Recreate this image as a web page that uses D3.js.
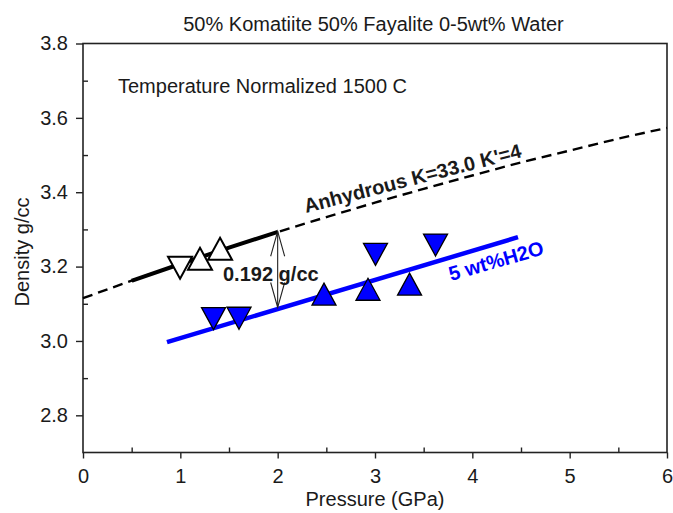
<!DOCTYPE html>
<html lang="en">
<head>
  <meta charset="utf-8" />
  <title>Komatiite Fayalite Density</title>
  <script src="https://cdn.jsdelivr.net/npm/d3@7"></script>
  <style>
    body { margin:0; background:#fff; font-family:"Liberation Sans", Arial, Helvetica, sans-serif; }
    svg text { fill:#1a1a1a; }
    .tick line { stroke:#222; stroke-width:1.4; }
    .tick text { font-size:20px; font-family:"Liberation Sans", Arial, sans-serif; fill:#1a1a1a; }
  </style>
</head>
<body>
<div id="chart"></div>
<script>
// --- data -----------------------------------------------------------------
const anhydP   = [0, 0.5, 1, 1.5, 2, 2.5, 3, 3.5, 4, 4.5, 5, 5.5, 6];
const anhydRho = [3.115, 3.162, 3.207, 3.251, 3.293, 3.333, 3.372, 3.409, 3.445, 3.480, 3.512, 3.544, 3.573];
const solidRange = [0.5, 2];            // solid part of the anhydrous curve

const wetLineP   = [0.863, 4.469];
const wetLineRho = [2.997, 3.279];

// anhydrous measurements: pressure, density, triangle direction
const dryP   = [0.997, 1.202, 1.408];
const dryRho = [3.197, 3.221, 3.248];
const dryDir = ["down", "up", "up"];

// 5 wt% water measurements
const wetP   = [1.341, 1.603, 2.476, 3.005, 2.928, 3.355, 3.622];
const wetRho = [3.060, 3.061, 3.126, 3.233, 3.139, 3.153, 3.258];
const wetDir = ["down", "down", "up", "down", "up", "up", "down"];

const arrowP = 2;
const arrowRho = [3.295, 3.090];

const xTicks = [0, 1, 2, 3, 4, 5, 6];
const xMinor = [0.5, 1.5, 2.5, 3.5, 4.5, 5.5];
const yTicks = [2.8, 3.0, 3.2, 3.4, 3.6, 3.8];
const yMinor = [2.9, 3.1, 3.3, 3.5, 3.7];

// --- layout ----------------------------------------------------------------
const W = 673, H = 513;
const L = 83, R = 667, T = 43.5, B = 452.5;

const svg = d3.select("#chart").append("svg")
  .attr("width", W).attr("height", H);

const x = d3.scaleLinear().domain([0, 6]).range([L, R]);
const y = d3.scaleLinear().domain([2.7, 3.8]).range([B, T]);

// axes
const yAx = svg.append("g").attr("transform", `translate(${L},0)`)
  .call(d3.axisLeft(y).tickValues(yTicks).tickSize(7).tickPadding(8).tickFormat(d3.format(".1f")));
const yAxMin = svg.append("g").attr("transform", `translate(${L},0)`)
  .call(d3.axisRight(y).tickValues(yMinor).tickSize(5).tickFormat(""));
const xAx = svg.append("g").attr("transform", `translate(0,${B})`)
  .call(d3.axisBottom(x).tickValues(xTicks).tickSize(6).tickPadding(10).tickFormat(d3.format("d")));
const xAxMin = svg.append("g").attr("transform", `translate(0,${B})`)
  .call(d3.axisTop(x).tickValues(xMinor).tickSize(5).tickFormat(""));
[yAx, yAxMin, xAx, xAxMin].forEach(g => g.select(".domain").remove());

svg.append("rect")
  .attr("x", L).attr("y", T).attr("width", R - L).attr("height", B - T)
  .attr("fill", "none").attr("stroke", "#222").attr("stroke-width", 1.6);

// titles
svg.append("text").attr("x", 373.5).attr("y", 31).attr("text-anchor", "middle")
  .attr("font-size", 20).text("50% Komatiite 50% Fayalite 0-5wt% Water");
svg.append("text").attr("x", 375).attr("y", 506).attr("text-anchor", "middle")
  .attr("font-size", 20).text("Pressure (GPa)");
svg.append("text").attr("transform", "translate(29,252) rotate(-90)").attr("text-anchor", "middle")
  .attr("font-size", 20).text("Density g/cc");
svg.append("text").attr("x", 118).attr("y", 93)
  .attr("font-size", 20).text("Temperature Normalized 1500 C");

// --- lines -----------------------------------------------------------------
const anhyd = anhydP.map((p, i) => ({p, r: anhydRho[i]}));
const line = d3.line().x(d => x(d.p)).y(d => y(d.r)).curve(d3.curveMonotoneX);

svg.append("path").datum(anhyd)
  .attr("d", line).attr("fill", "none")
  .attr("stroke", "#000").attr("stroke-width", 2.4).attr("stroke-dasharray", "10,6");
svg.append("path").datum(anhyd.filter(d => d.p >= solidRange[0] && d.p <= solidRange[1]))
  .attr("d", line).attr("fill", "none")
  .attr("stroke", "#000").attr("stroke-width", 4);

svg.append("path").datum(wetLineP.map((p, i) => ({p, r: wetLineRho[i]})))
  .attr("d", line).attr("fill", "none")
  .attr("stroke", "#0000ff").attr("stroke-width", 4.5);

// double arrow
const ax = x(arrowP), ay0 = y(arrowRho[0]), ay1 = y(arrowRho[1]);
const arr = svg.append("g").attr("stroke", "#222").attr("stroke-width", 1.1).attr("fill", "none");
arr.append("line").attr("x1", ax).attr("x2", ax).attr("y1", ay0).attr("y2", ay1);
arr.append("path").attr("d", `M${ax - 7},${ay0 + 25}L${ax},${ay0}L${ax + 7},${ay0 + 25}`);
arr.append("path").attr("d", `M${ax - 7},${ay1 - 25}L${ax},${ay1}L${ax + 7},${ay1 - 25}`);

// --- markers ---------------------------------------------------------------
function tri(dir) {
  const w = 12, h = 11;
  return dir === "up"
    ? `M0,${-h}L${w},${h}L${-w},${h}Z`
    : `M0,${h}L${w},${-h}L${-w},${-h}Z`;
}

svg.selectAll(".wet").data(wetP.map((p, i) => ({p, r: wetRho[i], d: wetDir[i]})))
  .join("path").attr("class", "wet")
  .attr("transform", d => `translate(${x(d.p)},${y(d.r)})`)
  .attr("d", d => tri(d.d))
  .attr("fill", "#0000ff").attr("stroke", "#000").attr("stroke-width", 1.3);

svg.selectAll(".dry").data(dryP.map((p, i) => ({p, r: dryRho[i], d: dryDir[i]})))
  .join("path").attr("class", "dry")
  .attr("transform", d => `translate(${x(d.p)},${y(d.r)})`)
  .attr("d", d => tri(d.d))
  .attr("fill", "#fff").attr("stroke", "#000").attr("stroke-width", 2);

// --- annotations -----------------------------------------------------------
svg.append("text").attr("x", 223).attr("y", 281)
  .attr("font-size", 20).attr("font-weight", "bold").text("0.192 g/cc");
svg.append("text").attr("transform", "translate(306,213) rotate(-14.5)")
  .attr("font-size", 20).attr("font-weight", "bold").text("Anhydrous K=33.0 K'=4");
svg.append("text").attr("transform", "translate(451,281) rotate(-16)")
  .attr("font-size", 20).attr("font-weight", "bold")
  .style("fill", "#0000ff").text("5 wt%H2O");
</script>
</body>
</html>
